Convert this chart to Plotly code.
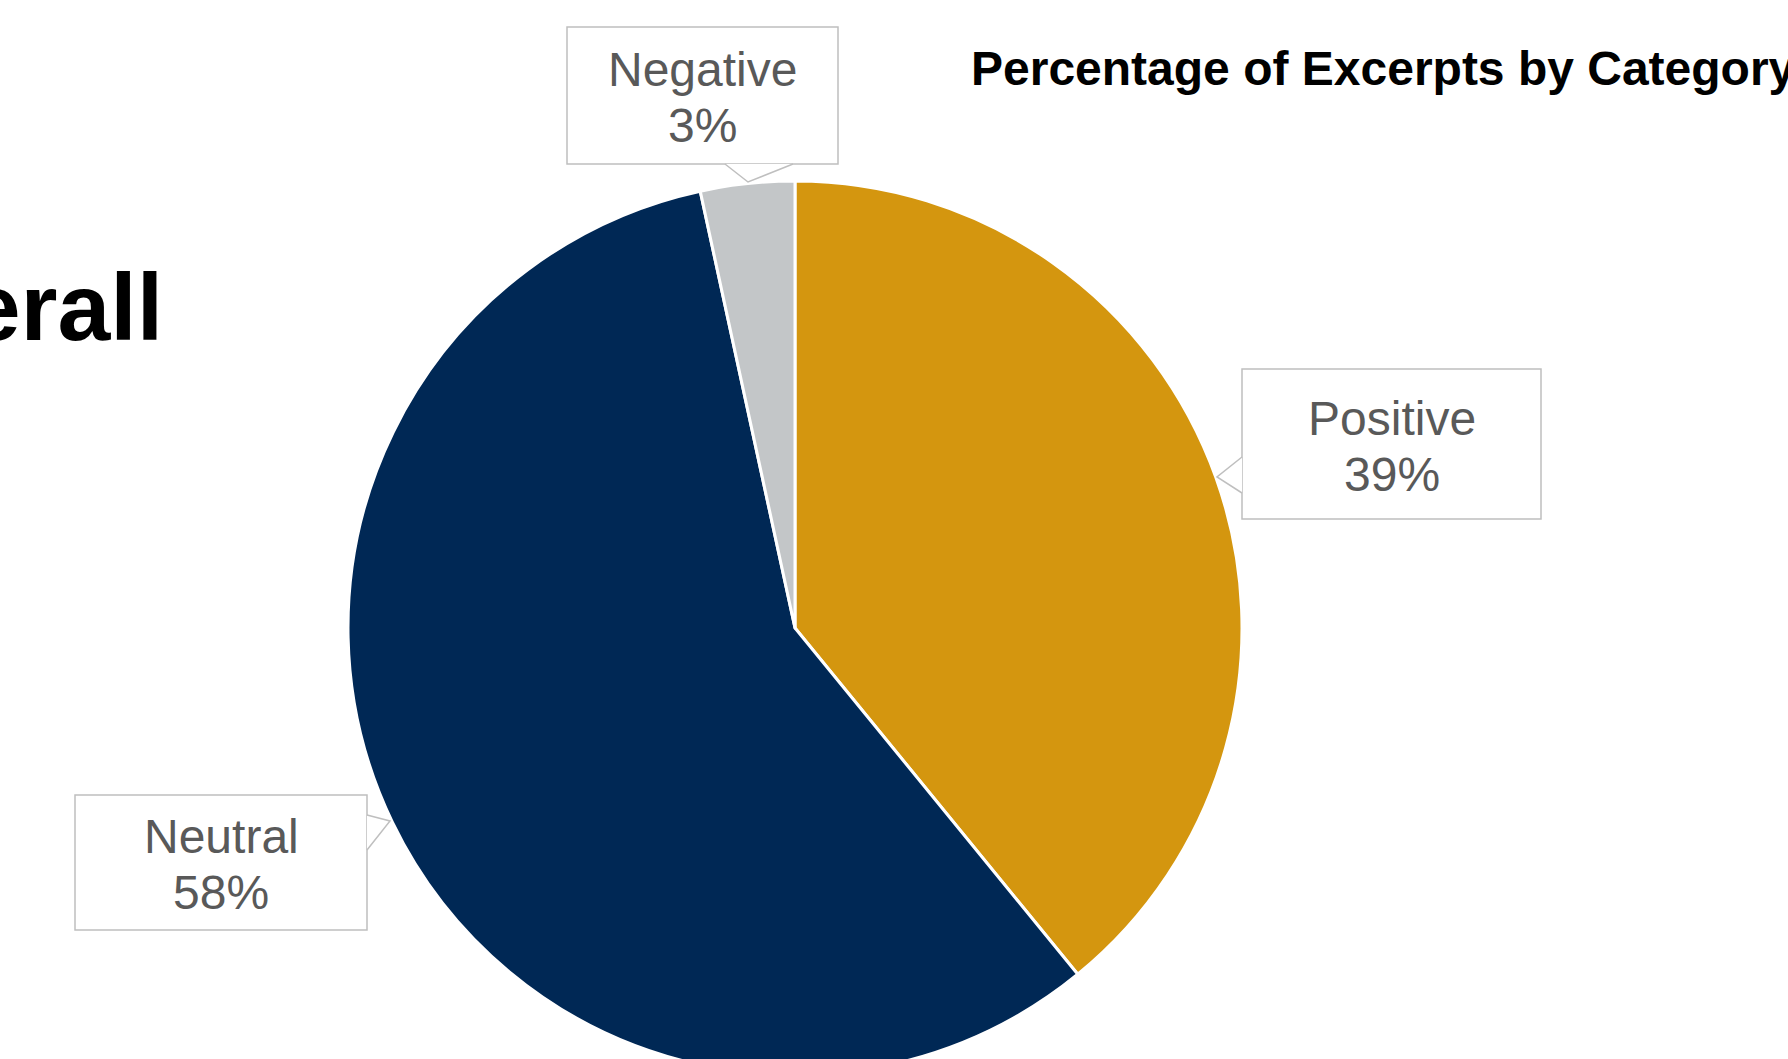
import plotly.graph_objects as go

# ---- data ----
categories = ["Positive", "Neutral", "Negative"]
values = [39.1, 57.5, 3.4]
colors = ["#D4960F", "#002855", "#C3C6C8"]
title_text = "Percentage of Excerpts by Category"
side_title = "Overall"

W, H = 1788, 1120


def px(x):
    return x / W


def py(y):
    return 1 - y / H


fig = go.Figure()
fig.add_trace(go.Pie(
    labels=categories,
    values=values,
    sort=False,
    direction="clockwise",
    rotation=0,
    marker=dict(colors=colors, line=dict(color="white", width=3)),
    textinfo="none",
    hoverinfo="skip",
    showlegend=False,
    domain=dict(x=[px(348), px(1242)], y=[py(1075), py(181)]),
))

# callout boxes: (left, top, right, bottom), notch (p1, tip, p2)
boxes = {
    "Negative": ((567, 27, 838, 164), ((725, 164), (748, 182), (793, 164))),
    "Positive": ((1242, 369, 1541, 519), ((1242, 457), (1217, 477), (1242, 493))),
    "Neutral": ((75, 795, 367, 930), ((367, 815), (390, 821), (367, 850))),
}

border = "#BFBFBF"
shapes = []
for name, ((l, t, r, b), (p1, tip, p2)) in boxes.items():
    shapes.append(dict(type="rect", xref="paper", yref="paper",
                       x0=px(l), x1=px(r), y0=py(b), y1=py(t),
                       line=dict(color=border, width=1.5), fillcolor="white"))
    shapes.append(dict(type="path", xref="paper", yref="paper",
                       path=f"M {px(p1[0])} {py(p1[1])} L {px(tip[0])} {py(tip[1])} L {px(p2[0])} {py(p2[1])} Z",
                       line=dict(width=0), fillcolor="white"))
    shapes.append(dict(type="path", xref="paper", yref="paper",
                       path=f"M {px(p1[0])} {py(p1[1])} L {px(tip[0])} {py(tip[1])} L {px(p2[0])} {py(p2[1])}",
                       line=dict(color=border, width=1.5)))

font_family = "Liberation Sans, Arial, sans-serif"
label_font = dict(family=font_family, size=48, color="#595959")
annotations = []
for name, v in zip(categories, values):
    (l, t, r, b), _ = boxes[name]
    cx = px((l + r) / 2)
    cy = (t + b) / 2 + 2
    annotations.append(dict(
        xref="paper", yref="paper", x=cx, y=py(cy - 28),
        xanchor="center", yanchor="middle", showarrow=False, borderpad=0,
        text=name, font=label_font,
    ))
    annotations.append(dict(
        xref="paper", yref="paper", x=cx, y=py(cy + 28),
        xanchor="center", yanchor="middle", showarrow=False, borderpad=0,
        text=f"{v:.0f}%", font=label_font,
    ))

annotations.append(dict(
    xref="paper", yref="paper", x=px(970), y=py(68), xanchor="left", yanchor="middle",
    showarrow=False, borderpad=0, text=f"<b>{title_text}</b>",
    font=dict(family=font_family, size=48, color="black"),
))
annotations.append(dict(
    xref="paper", yref="paper", x=px(164), y=py(307), xanchor="right", yanchor="middle",
    showarrow=False, borderpad=0, text=f"<b>{side_title}</b>",
    font=dict(family=font_family, size=95, color="black"),
))

fig.update_layout(
    width=W, height=H,
    margin=dict(l=0, r=0, t=0, b=0),
    paper_bgcolor="white", plot_bgcolor="white",
    shapes=shapes, annotations=annotations,
    showlegend=False,
)

fig.write_html(
    "out.html",
    config={"displayModeBar": False},
    post_script="document.documentElement.style.overflow='hidden';"
                "document.body.style.overflow='hidden';document.body.style.margin='0';",
)
